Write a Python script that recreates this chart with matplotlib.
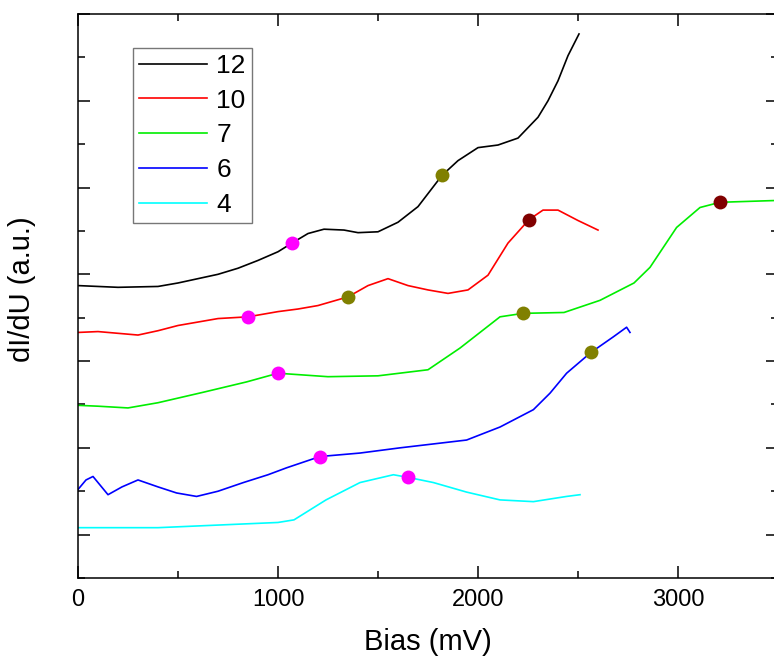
import matplotlib
matplotlib.use('Agg')
import matplotlib.pyplot as plt
from matplotlib.ticker import MultipleLocator

font = {'family': 'sans-serif',
        'sans-serif': ['Liberation Sans', 'DejaVu Sans'],
        'size': 17}
matplotlib.rc('font', **font)

# dI/dU spectra (offset, arbitrary units)
labels = ['12', '10', '7', '6', '4']
colors = ['black', '#ff0000', '#00ee00', '#0000ff', '#00ffff']

bias_12 = [0, 200, 400, 500, 600, 700, 800, 900, 1000, 1070, 1150, 1230, 1330, 1400,
           1500, 1600, 1700, 1820, 1900, 2000, 2100, 2200, 2300, 2350, 2400, 2450, 2505]
didu_12 = [2.87, 2.85, 2.86, 2.90, 2.95, 3.00, 3.07, 3.16, 3.26, 3.36, 3.47, 3.52, 3.51, 3.48,
           3.49, 3.60, 3.78, 4.14, 4.31, 4.46, 4.49, 4.57, 4.81, 5.00, 5.23, 5.52, 5.77]

bias_10 = [0, 100, 200, 300, 400, 500, 600, 700, 850, 1000, 1100, 1200, 1350, 1450,
           1550, 1650, 1750, 1850, 1950, 2050, 2150, 2255, 2325, 2400, 2500, 2600]
didu_10 = [2.33, 2.34, 2.32, 2.30, 2.35, 2.41, 2.45, 2.49, 2.51, 2.57, 2.60, 2.64, 2.74, 2.87,
           2.95, 2.87, 2.82, 2.78, 2.82, 2.99, 3.36, 3.63, 3.74, 3.74, 3.62, 3.51]

bias_7 = [0, 100, 250, 400, 625, 843, 1000, 1250, 1500, 1750, 1910, 2110, 2225, 2430,
          2610, 2780, 2860, 2993, 3110, 3210, 3480]
didu_7 = [1.49, 1.48, 1.46, 1.52, 1.64, 1.76, 1.86, 1.82, 1.83, 1.90, 2.15, 2.51, 2.55, 2.56,
          2.70, 2.90, 3.08, 3.54, 3.77, 3.83, 3.85]

bias_6 = [0, 40, 75, 150, 220, 300, 400, 493, 593, 700, 827, 950, 1043, 1210, 1410,
          1610, 1943, 2110, 2277, 2360, 2443, 2565, 2677, 2743, 2760]
didu_6 = [0.52, 0.63, 0.67, 0.46, 0.55, 0.63, 0.55, 0.48, 0.44, 0.50, 0.60, 0.69, 0.77, 0.90, 0.94,
          1.00, 1.09, 1.24, 1.44, 1.63, 1.86, 2.10, 2.28, 2.39, 2.33]

bias_4 = [0, 400, 1000, 1080, 1240, 1410, 1577, 1650, 1777, 1943, 2110, 2277, 2443, 2510]
didu_4 = [0.08, 0.08, 0.14, 0.17, 0.40, 0.60, 0.69, 0.66, 0.60, 0.49, 0.40, 0.38, 0.44, 0.46]

# highlighted points on the curves
mark_bias = [1070, 1820, 850, 1350, 2255, 1000, 2225, 3210, 1210, 2565, 1650]
mark_didu = [3.36, 4.14, 2.51, 2.74, 3.63, 1.86, 2.55, 3.83, 0.90, 2.10, 0.66]
mark_color = ['#ff00ff', '#808000', '#ff00ff', '#808000', '#800000', '#ff00ff',
              '#808000', '#800000', '#ff00ff', '#808000', '#ff00ff']

curves = [(bias_12, didu_12), (bias_10, didu_10), (bias_7, didu_7),
          (bias_6, didu_6), (bias_4, didu_4)]

W, H = 774, 661
fig = plt.figure(figsize=(W / 100, H / 100), dpi=100)
ax = fig.add_axes([78 / W, (H - 578) / H, 700 / W, 564 / H])

for (bx, dy), lab, col in zip(curves, labels, colors):
    ax.plot(bx, dy, color=col, lw=1.2, label=lab)
for bx, dy, col in zip(mark_bias, mark_didu, mark_color):
    ax.plot(bx, dy, 'o', color=col, ms=10, mec='none', zorder=5)

ax.set_xlim(0, 3500)
ax.set_ylim(-0.5, 6.0)
ax.xaxis.set_major_locator(MultipleLocator(1000))
ax.xaxis.set_minor_locator(MultipleLocator(500))
ax.yaxis.set_major_locator(MultipleLocator(1))
ax.yaxis.set_minor_locator(MultipleLocator(0.5))
ax.tick_params(which='both', direction='in', top=True, right=True, width=1.1)
ax.tick_params(which='major', length=8.5, pad=8)
ax.tick_params(which='minor', length=5)
ax.set_yticklabels([])
for s in ax.spines.values():
    s.set_linewidth(1.1)

ax.set_xlabel('Bias (mV)', fontsize=21, labelpad=12)
ax.set_ylabel('dI/dU (a.u.)', fontsize=21, labelpad=22)
ax.yaxis.label.set_y(0.512)

leg = ax.legend(loc='upper left', bbox_to_anchor=(133 / W, 1 - 48 / H),
                bbox_transform=fig.transFigure, fontsize=19, frameon=True,
                fancybox=False, edgecolor='#555555', handlelength=2.6,
                handletextpad=0.34, labelspacing=0.41, borderpad=0.22,
                borderaxespad=0)
leg.get_frame().set_linewidth(1.0)

fig.savefig('out.png', dpi=100)
